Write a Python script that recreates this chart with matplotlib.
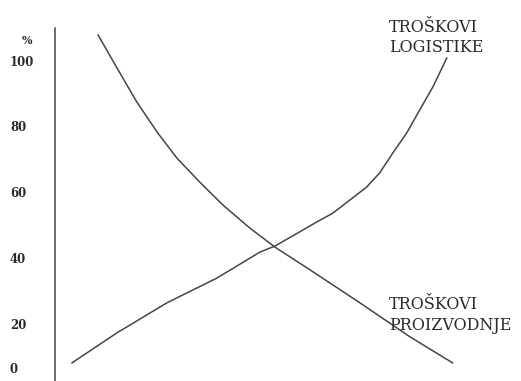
import matplotlib
matplotlib.use('Agg')
import matplotlib.pyplot as plt

# cost curves (x: arbitrary units, y: %)
proizvodnja_x = [9.6, 13.8, 18.2, 22.7, 27.1, 32.2, 37.3, 43.3, 48.9, 56.7, 67.8, 78.9, 88.4]
proizvodnja_y = [108.2, 98.2, 87.9, 78.8, 70.9, 63.6, 56.7, 49.7, 43.9, 37.0, 27.0, 16.7, 8.8]

logistika_x = [3.8, 13.8, 24.9, 36.0, 45.6, 48.9, 54.4, 58.2, 61.8, 65.6, 69.3,
               72.2, 75.1, 78.2, 81.1, 84.0, 87.1]
logistika_y = [8.8, 17.9, 27.0, 34.5, 42.4, 44.2, 48.5, 51.5, 54.2, 58.2, 62.1,
               66.4, 72.4, 78.5, 85.5, 92.4, 101.2]

ytick_labels = ['0', '20', '40', '60', '80', '100']
ytick_pos = [6.7, 20, 40, 60, 80, 100]

fig = plt.figure(figsize=(5.21, 3.81), dpi=100)
ax = fig.add_axes([0, 0, 1, 1])
ax.set_xlim(-12.2, 103.6)
ax.set_ylim(3.3, 118.8)
ax.axis('off')

col = '#454545'
ax.plot(proizvodnja_x, proizvodnja_y, color=col, lw=1.1)
ax.plot(logistika_x, logistika_y, color=col, lw=1.1)

# y axis line
ax.plot([0, 0], [3.3, 110.3], color=col, lw=1.1)

for lab, p in zip(ytick_labels, ytick_pos):
    ax.text(-10, p, lab, ha='left', va='center', fontsize=8.5,
            family='DejaVu Serif', fontweight='bold', color='#2a2a2a')
ax.text(-6.2, 106.5, '%', ha='center', va='center', fontsize=8,
        family='DejaVu Serif', fontweight='bold', color='#2a2a2a')

ax.text(74.2, 107.4, 'TROŠKOVI\nLOGISTIKE', ha='left', va='center', fontsize=11.5,
        family='DejaVu Serif', color='#2a2a2a', linespacing=1.25)
ax.text(74.2, 23.3, 'TROŠKOVI\nPROIZVODNJE', ha='left', va='center', fontsize=11.5,
        family='DejaVu Serif', color='#2a2a2a', linespacing=1.25)

fig.savefig('out.png', dpi=100, facecolor='white')
